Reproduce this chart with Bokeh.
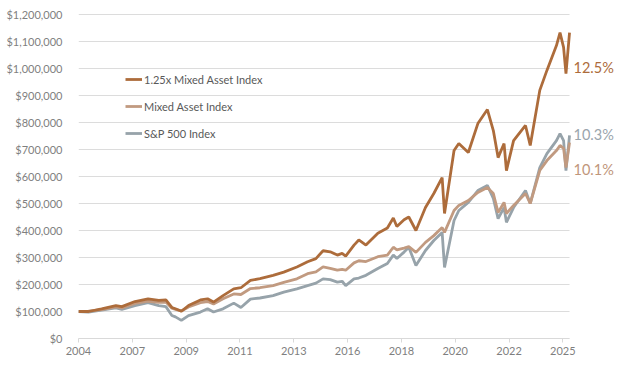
from bokeh.plotting import figure
from bokeh.models import Range1d, FixedTicker, NumeralTickFormatter, Legend, LegendItem, ColumnDataSource
from bokeh.core.properties import value
from bokeh.embed import file_html
from bokeh.resources import INLINE

# ---- data (decimal years, values in $ thousands) ----
dates = [2004.83, 2005.25, 2005.8, 2006.4, 2006.65, 2007.2, 2007.75, 2008.2, 2008.5, 2008.75,
         2008.9, 2009.15, 2009.45, 2009.95, 2010.25, 2010.5, 2010.9, 2011.35, 2011.65, 2012.05,
         2012.45, 2013.0, 2013.45, 2014.0, 2014.45, 2014.8, 2015.1, 2015.4, 2015.7, 2015.9,
         2016.05, 2016.4, 2016.6, 2016.9, 2017.4, 2017.8, 2018.05, 2018.2, 2018.5, 2018.7,
         2019.0, 2019.4, 2019.75, 2020.1, 2020.2, 2020.6, 2020.8, 2021.2, 2021.6, 2022.0,
         2022.25, 2022.45, 2022.7, 2022.8, 2023.1, 2023.6, 2023.8, 2024.2, 2024.5, 2024.9,
         2025.05, 2025.2, 2025.3, 2025.45]

mixed_125x = [100, 100, 110, 122, 118, 137, 147, 141, 143, 115,
              110, 101, 122, 143, 147, 135, 159, 184, 188, 215,
              222, 234, 246, 265, 284, 296, 325, 321, 309, 315,
              305, 346, 365, 346, 390, 409, 446, 415, 440, 450,
              400, 485, 537, 596, 463, 696, 722, 689, 796, 848,
              770, 670, 722, 622, 733, 789, 715, 919, 993, 1085,
              1133, 1078, 981, 1133]

mixed_asset = [100, 101, 107, 117, 113, 130, 138, 134, 135, 112,
               108, 102, 117, 133, 137, 128, 147, 165, 163, 185,
               188, 196, 208, 221, 240, 247, 265, 260, 253, 256,
               253, 280, 288, 285, 303, 309, 338, 328, 335, 340,
               319, 356, 381, 411, 393, 474, 493, 511, 541, 559,
               537, 467, 504, 463, 493, 537, 500, 622, 659, 696,
               715, 704, 633, 726]

sp500 = [100, 98, 105, 113, 108, 122, 133, 122, 118, 85,
         80, 67, 85, 98, 110, 98, 110, 131, 115, 146,
         150, 159, 172, 184, 196, 205, 221, 218, 209, 212,
         196, 221, 224, 234, 259, 278, 309, 296, 320, 338,
         270, 326, 363, 393, 263, 437, 474, 504, 548, 567,
         519, 444, 485, 430, 485, 548, 500, 633, 685, 733,
         759, 733, 622, 752]

series_names = ["1.25x Mixed Asset Index", "Mixed Asset Index", "S&P 500 Index"]
cagr_labels = ["12.5%", "10.1%", "10.3%"]
x_tick_labels = ["2004", "2007", "2009", "2011", "2013", "2016", "2018", "2020", "2022", "2025"]
y_ticks = [0, 100000, 200000, 300000, 400000, 500000, 600000, 700000, 800000, 900000,
           1000000, 1100000, 1200000]

# ---- layout / style ----
X_START, X_END = 2004.83, 2025.45
X_VIEW_END = 2027.38          # extra room right of the data for the end labels
Y_TOP = 1214800               # a few px above $1.2M so the top gridline is not clipped
TICK_STEP = 2.26
C_ORANGE = "#AD6C3B"
C_TAN = "#C19A80"
C_GRAY = "#97A3AA"
FONT = "Lato"

tick_pos = [round(X_START + k * TICK_STEP, 2) for k in range(len(x_tick_labels))]

p = figure(width=615, height=365, output_backend="svg", toolbar_location=None,
           x_range=Range1d(X_START, X_VIEW_END), y_range=Range1d(0, Y_TOP),
           min_border_left=78, min_border_right=0, min_border_top=10, min_border_bottom=27)
p.outline_line_color = None
p.background_fill_color = "white"
p.xgrid.grid_line_color = None
p.ygrid.grid_line_color = None

# horizontal gridlines limited to the data span
p.segment(x0=[X_START] * len(y_ticks), x1=[X_END] * len(y_ticks), y0=y_ticks, y1=y_ticks,
          line_color="#dcdcdc", line_width=1)

def k(vals):
    return [v * 1000 for v in vals]

r_sp = p.line(dates, k(sp500), line_color=C_GRAY, line_width=2.8)
r_mix = p.line(dates, k(mixed_asset), line_color=C_TAN, line_width=2.8)
r_125 = p.line(dates, k(mixed_125x), line_color=C_ORANGE, line_width=2.8)

# axes
p.yaxis.ticker = FixedTicker(ticks=y_ticks)
p.yaxis.formatter = NumeralTickFormatter(format="$0,0")
p.yaxis.axis_line_color = None
p.yaxis.major_tick_line_color = None
p.yaxis.minor_tick_line_color = None
p.yaxis.major_label_standoff = 10
p.yaxis.major_label_text_font = FONT
p.yaxis.major_label_text_font_size = "11px"
p.yaxis.major_label_text_color = "#7f7f7f"

p.xaxis.ticker = FixedTicker(ticks=tick_pos)
p.xaxis.major_label_overrides = {t: lab for t, lab in zip(tick_pos, x_tick_labels)}
p.xaxis.bounds = (X_START, X_END)
p.xaxis.axis_line_color = "#d9d9d9"
p.xaxis.major_tick_line_color = "#d9d9d9"
p.xaxis.major_tick_out = 4
p.xaxis.major_tick_in = 0
p.xaxis.minor_tick_line_color = None
p.xaxis.major_label_standoff = 4
p.xaxis.major_label_text_font = FONT
p.xaxis.major_label_text_font_size = "11px"
p.xaxis.major_label_text_color = "#7f7f7f"

legend = Legend(items=[LegendItem(label=series_names[0], renderers=[r_125]),
                       LegendItem(label=series_names[1], renderers=[r_mix]),
                       LegendItem(label=series_names[2], renderers=[r_sp])],
                location=(47, 195), border_line_color=None, background_fill_alpha=0,
                padding=0, margin=0, spacing=7, glyph_height=20, glyph_width=17,
                label_height=20, label_standoff=2, label_text_font=FONT,
                label_text_font_size="11px", label_text_color="#595959")
p.add_layout(legend)

# end-of-line CAGR labels
label_y = [1004000, 626000, 756000]
label_colors = [C_ORANGE, "#BF967B", "#9AA5AD"]
lab_src = ColumnDataSource(dict(x=[X_END] * len(cagr_labels), y=label_y,
                                text=cagr_labels, color=label_colors))
p.text(x="x", y="y", text="text", text_color="color", source=lab_src, x_offset=4,
       text_baseline="middle", text_font=value(FONT), text_font_size="14.5px")

open("out.html", "w").write(file_html(p, INLINE))
